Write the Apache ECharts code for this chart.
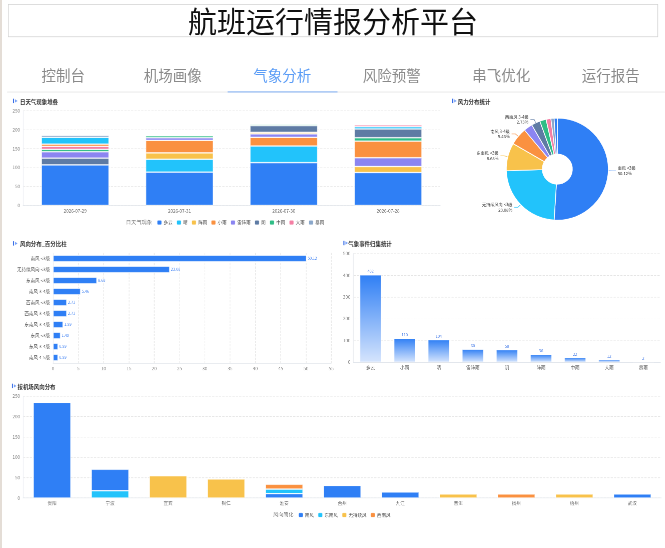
<!DOCTYPE html>
<html><head><meta charset="utf-8">
<script src="https://cdn.jsdelivr.net/npm/echarts@6/dist/echarts.min.js"></script>
<style>
html,body{margin:0;padding:0;background:#fff;overflow:hidden;width:665px;height:548px;}
#stage{position:absolute;left:0;top:0;width:1773.33px;height:1461.33px;transform:scale(0.375);transform-origin:0 0;font-family:"Noto Sans CJK SC","Noto Sans",sans-serif;}
#chart{position:absolute;left:0;top:0;width:1773.33px;height:1461.33px;}
.abs{position:absolute;box-sizing:border-box;}
.ptitle{position:absolute;display:flex;align-items:center;font-size:14.5px;font-weight:bold;color:#333;white-space:nowrap;}
.tabs{display:flex;}
.tab{flex:1;text-align:center;color:#8a8a8a;}
</style></head>
<body>
<div id="stage">
  <div id="chart"></div>
  <div id="overlay"></div>
</div>
<script>
const S = 0.375;
const u = v => v / S;

// ---------- DATA ----------
const dates = ['2026-07-29', '2026-07-31', '2026-07-30', '2026-07-28'];
const weatherTypes = ['多云', '晴', '阵雨', '小雨', '雷阵雨', '阴', '中雨', '大雨', '暴雨'];
// per-day stacking order (bottom -> top) and values
const day0Types = ['多云', '阴', '雷阵雨', '中雨', '大雨', '小雨', '晴', '暴雨'];
const day0Values = [107, 18, 17, 6, 8, 6, 18, 5];
const day1Types = ['多云', '晴', '阵雨', '小雨', '雷阵雨', '中雨', '暴雨'];
const day1Values = [88, 34, 17, 33, 7, 5, 2];
const day2Types = ['多云', '晴', '小雨', '雷阵雨', '阵雨', '阴', '中雨'];
const day2Values = [113, 44, 23, 9, 4, 18, 3];
const day3Types = ['多云', '阵雨', '雷阵雨', '小雨', '中雨', '阴', '晴', '大雨'];
const day3Values = [87, 16, 23, 44, 9, 23, 6, 5];

const windCats = ['南风 <3级', '无持续风向 <3级', '东南风 <3级', '南风 3-4级', '西南风 <3级', '西南风 3-4级', '东南风 3-4级', '东风 <3级', '东风 3-4级', '南风 4-5级'];
const windPct = [50.12, 23.08, 8.68, 5.46, 2.73, 2.73, 1.99, 1.49, 0.99, 0.99];
const pieLabelShown = ['南风 <3级', '无持续风向 <3级', '东南风 <3级', '南风 3-4级', '西南风 3-4级'];

const eventCats = ['多云', '小雨', '晴', '雷阵雨', '阴', '阵雨', '中雨', '大雨', '暴雨'];
const eventCounts = [402, 110, 104, 60, 58, 36, 22, 12, 2];

const airports = ['贵阳', '宁波', '宜宾', '铜仁', '淮安', '台州', '九江', '普洱', '扬州', '梧州', '武汉'];
const windNames = ['南风', '东南风', '无持续风', '西南风'];
const southWind = [235, 53, 0, 0, 11, 31, 15, 0, 0, 0, 10];
const southeastWind = [0, 18, 0, 0, 11, 0, 0, 0, 0, 0, 0];
const calmWind = [0, 0, 55, 47, 0, 0, 0, 10, 0, 10, 0];
const southwestWind = [0, 0, 0, 0, 12, 0, 0, 0, 10, 0, 0];
const southOnTop = ['宁波'];

const tabNames = ['控制台', '机场画像', '气象分析', '风险预警', '串飞优化', '运行报告'];
const activeTab = '气象分析';

// ---------- STYLE ----------
const weatherColors = {'多云':'#2f7ff5','晴':'#22c3fb','阵雨':'#f8c24b','小雨':'#fa9140','雷阵雨':'#8b85f1','阴':'#5e7ba4','中雨':'#2fbd86','大雨':'#f47fa4','暴雨':'#8aa7ca'};
const windColors = {'南风':'#2f7ff5','东南风':'#22c3fb','无持续风':'#f8c24b','西南风':'#fa9140'};
const pieColors = ['#2f7ff5','#22c3fb','#f8c24b','#fa9140','#8b85f1','#5e7ba4','#2fbd86','#f47fa4','#8aa7ca','#2f7ff5'];
const border = {borderColor:'rgba(255,255,255,0.55)', borderWidth:2};

// ---------- HEADER / OVERLAY ----------
const ov = document.getElementById('overlay');
function add(html){ ov.insertAdjacentHTML('beforeend', html); }
add(`<div class="abs" style="left:0;top:0;width:${u(1.6)}px;height:${u(548)}px;background:#e4ddd6"></div>`);
add(`<div class="abs" style="left:${u(8)}px;top:${u(4)}px;width:${u(650)}px;height:${u(33)}px;border:2.5px solid #d2d2d2;text-align:center;font-size:${u(29)}px;line-height:${u(32)}px;color:#111;">航班运行情报分析平台</div>`);
let tabsHtml = `<div class="abs tabs" style="left:${u(8.5)}px;top:${u(60)}px;width:${u(657)}px;height:${u(30)}px;font-size:${u(14.5)}px;line-height:${u(30)}px;">`;
tabNames.forEach(t => { tabsHtml += `<div class="tab" style="${t===activeTab?'color:#5a9cf6':''}">${t}</div>`; });
tabsHtml += '</div>';
add(tabsHtml);
add(`<div class="abs" style="left:${u(7)}px;top:${u(91.6)}px;width:${u(658)}px;height:${u(0.9)}px;background:#ececec"></div>`);
const ai = tabNames.indexOf(activeTab);
add(`<div class="abs" style="left:${u(8.5 + ai*109.5)}px;top:${u(91.2)}px;width:${u(110)}px;height:${u(1.4)}px;background:#a9c9f7"></div>`);

function panelTitle(text, ix, tx, y){
  const icon = `<svg width="18" height="14" viewBox="0 0 18 14" style="position:absolute;left:0;top:${-7}px"><rect x="0" y="1" width="3.5" height="12" fill="#3a6fe8"/><polygon points="6,2.5 13,7 6,11.5" fill="#7aa3f6"/></svg>`;
  add(`<div class="abs" style="left:${u(ix)}px;top:${u(y)}px;">${icon}</div>`);
  add(`<div class="ptitle" style="left:${u(tx)}px;top:${u(y)-10}px;height:20px;">${text}</div>`);
}
panelTitle('日天气现象堆叠', 12.7, 20, 101);
panelTitle('风力分布统计', 451.7, 457.7, 101);
panelTitle('风向分布_百分比柱', 12.7, 20, 243.3);
panelTitle('气象事件归集统计', 343, 348.3, 243);
panelTitle('按机场风向分布', 11.5, 17.5, 386);

// ---------- SERIES BUILD ----------
const dash = v => (v === 0 ? '-' : v);
const weatherSeries = [];
[[day0Types, day0Values], [day1Types, day1Values], [day2Types, day2Values], [day3Types, day3Values]].forEach(([types, vals], d) => {
  types.forEach((t, j) => {
    weatherSeries.push({
      name: t, type: 'bar', stack: 'weather', xAxisIndex: 0, yAxisIndex: 0, barWidth: '65%',
      data: dates.map((_, k) => (k === d ? vals[j] : '-')),
      itemStyle: Object.assign({color: weatherColors[t]}, border)
    });
  });
});

const airportSeries = [];
function airportBar(name, arr){
  airportSeries.push({name, type:'bar', stack:'wind', xAxisIndex:3, yAxisIndex:3, barWidth:'65%',
    data: arr.map(dash), itemStyle: Object.assign({color: windColors[name]}, border)});
}
airportBar('南风', southWind.map((v, i) => southOnTop.includes(airports[i]) ? 0 : v));
airportBar('东南风', southeastWind);
airportBar('南风', southWind.map((v, i) => southOnTop.includes(airports[i]) ? v : 0));
airportBar('无持续风', calmWind);
airportBar('西南风', southwestWind);

const axisLabel = {color:'#808080', fontSize:12};
const catLabel = {color:'#666', fontSize:12};
const split = {show:true, lineStyle:{color:'#e4e4e4', type:'dashed', width:1.5}};
const axLine = {show:true, lineStyle:{color:'#e2e6ec', width:2}};
const yLine = {show:true, lineStyle:{color:'#eceef2', width:1.5}};

const option = {
  animation: false,
  textStyle: {fontFamily: '"Noto Sans CJK SC","Noto Sans",sans-serif'},
  grid: [
    {left:u(23), top:u(110.7), width:u(417), height:u(94.6)},
    {left:u(53), top:u(252.8), width:u(278), height:u(110)},
    {left:u(353.3), top:u(253.3), width:u(306.7), height:u(108.7)},
    {left:u(23), top:u(396), width:u(638), height:u(101.7)}
  ],
  xAxis: [
    {type:'category', gridIndex:0, data:dates, axisTick:{show:false}, axisLine:axLine, axisLabel:catLabel},
    {type:'value', gridIndex:1, min:0, max:55, interval:5, axisLabel:axisLabel, splitLine:split, axisLine:axLine},
    {type:'category', gridIndex:2, data:eventCats, axisTick:{show:false}, axisLine:axLine, axisLabel:catLabel},
    {type:'category', gridIndex:3, data:airports, axisTick:{show:false}, axisLine:axLine, axisLabel:catLabel}
  ],
  yAxis: [
    {type:'value', gridIndex:0, min:0, max:250, interval:50, axisLabel:axisLabel, splitLine:split, axisLine:yLine},
    {type:'category', gridIndex:1, data:windCats, inverse:true, axisTick:{show:false}, axisLine:yLine, axisLabel:{color:'#555', fontSize:12}},
    {type:'value', gridIndex:2, min:0, max:500, interval:100, axisLabel:axisLabel, splitLine:split, axisLine:yLine},
    {type:'value', gridIndex:3, min:0, max:250, interval:50, axisLabel:axisLabel, splitLine:split, axisLine:yLine}
  ],
  legend: [
    {data: weatherTypes, left:u(156.7), top:u(222)-6, padding:0, itemWidth:12, itemHeight:12, itemGap:10, icon:'roundRect', textStyle:{fontSize:12, color:'#555'}},
    {data: windNames, left:u(298), top:u(514.3)-6, padding:0, itemWidth:12, itemHeight:12, itemGap:10, icon:'roundRect', textStyle:{fontSize:12, color:'#555'}}
  ],
  graphic: [
    {type:'text', x:u(152), y:u(222), style:{text:'日天气现象', fill:'#777', fontSize:14, align:'right', verticalAlign:'middle', fontFamily:'"Noto Sans CJK SC",sans-serif'}},
    {type:'text', x:u(293.3), y:u(514.3), style:{text:'风向简化', fill:'#777', fontSize:13.5, align:'right', verticalAlign:'middle', fontFamily:'"Noto Sans CJK SC",sans-serif'}}
  ],
  series: [
    ...weatherSeries,
    {
      type:'pie', name:'风力', center:[u(557), u(169)], radius:[u(15), u(51)], startAngle:90, clockwise:true,
      itemStyle:{borderColor:'#fff', borderWidth:2},
      label:{show:true, fontSize:11, lineHeight:14, formatter:'{b}\n{c}%', align:'center'},
      labelLine:{length:10, length2:10, lineStyle:{width:1.5}},
      data: windCats.map((n, i) => {
        const shown = pieLabelShown.includes(n);
        return {name:n, value:windPct[i], itemStyle:{color:pieColors[i]}, label:{show:shown}, labelLine:{show:shown}};
      })
    },
    {
      type:'bar', name:'百分比', xAxisIndex:1, yAxisIndex:1, barWidth:'61%', data:windPct,
      itemStyle:Object.assign({color:'#2f7ff5'}, border),
      label:{show:true, position:'right', distance:3, fontSize:10, color:'#3b7ff3'}
    },
    {
      type:'bar', name:'事件数', xAxisIndex:2, yAxisIndex:2, barWidth:'64%', data:eventCounts,
      itemStyle:{color:{type:'linear', x:0, y:0, x2:0, y2:1, colorStops:[{offset:0, color:'#2f7ff5'}, {offset:1, color:'#d6e5fd'}]}, borderColor:'rgba(255,255,255,0.55)', borderWidth:2},
      label:{show:true, position:'top', distance:4, fontSize:10, color:'#4a7fe8'}
    },
    ...airportSeries
  ]
};
const chart = echarts.init(document.getElementById('chart'), null, {devicePixelRatio: 0.75});
chart.setOption(option);
</script>
</body></html>
